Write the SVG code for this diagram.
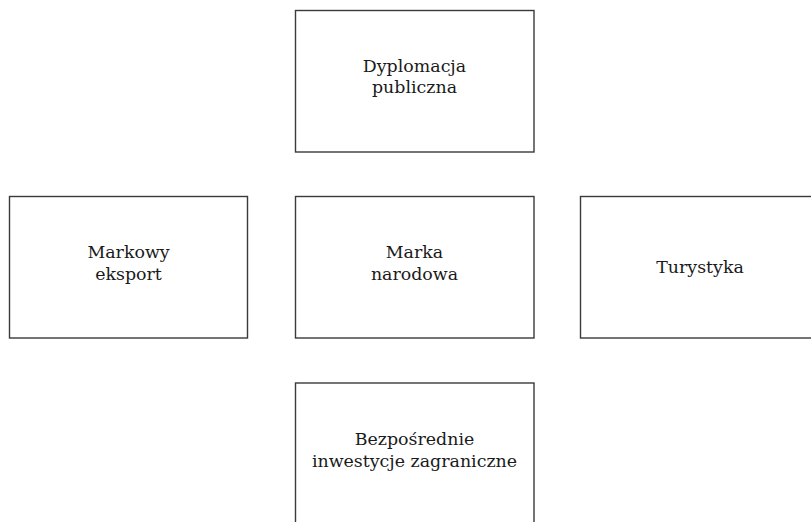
<svg xmlns="http://www.w3.org/2000/svg" width="811" height="522" viewBox="0 0 811 522">
<style>
.box{fill:#fff;stroke:#3a3a3a;stroke-width:1.4}
.t{font-family:"DejaVu Serif","Liberation Serif",serif;font-size:17.4px;fill:#1a1a1a;text-anchor:middle}
</style>
<rect width="811" height="522" fill="#fff"/>
<g id="connectors"></g>
<g id="dyplomacja"><rect class="box" x="295.5" y="10.5" width="238.5" height="141.5"/><text class="t" x="414.5" y="72">Dyplomacja</text><text class="t" x="414.5" y="93">publiczna</text></g>
<g id="eksport"><rect class="box" x="9.5" y="196.5" width="238" height="141.5"/><text class="t" x="128.5" y="258">Markowy</text><text class="t" x="128.5" y="279.5">eksport</text></g>
<g id="marka"><rect class="box" x="295.5" y="196.5" width="238.5" height="141.5"/><text class="t" x="414.5" y="258">Marka</text><text class="t" x="414.5" y="279.5">narodowa</text></g>
<g id="turystyka"><rect class="box" x="580.5" y="196.5" width="238.5" height="141.5"/><text class="t" x="700" y="272.5">Turystyka</text></g>
<g id="inwestycje"><rect class="box" x="295.5" y="383" width="238.5" height="150"/><text class="t" x="414.5" y="444.5">Bezpośrednie</text><text class="t" x="414.5" y="467">inwestycje zagraniczne</text></g>
</svg>
